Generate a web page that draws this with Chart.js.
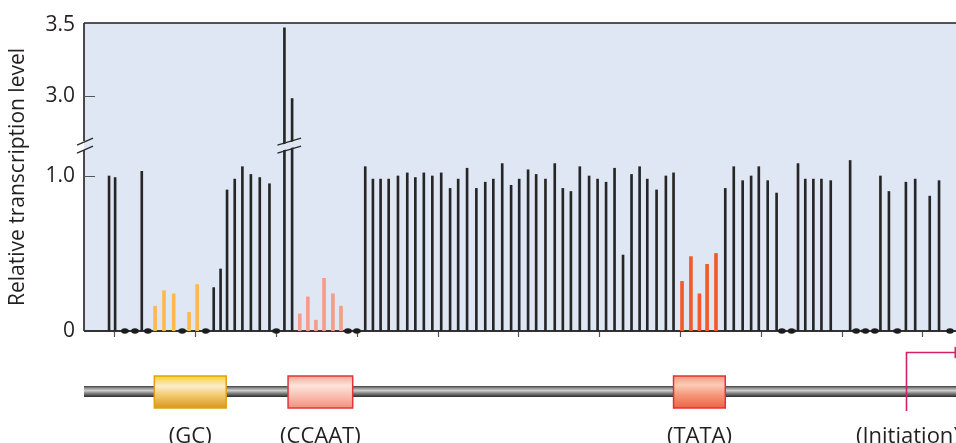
<!DOCTYPE html>
<html>
<head>
<meta charset="utf-8">
<script src="https://cdn.jsdelivr.net/npm/chart.js@4/dist/chart.umd.min.js"></script>
<style>
  html, body { margin: 0; padding: 0; background: #fff; overflow: hidden; }
  #wrap { width: 956px; height: 443px; position: relative; }
  #chart { display: block; }
</style>
</head>
<body>
<div id="wrap"><canvas id="chart"></canvas></div>
<script>
// positions along the promoter (bp from the first tick), relative transcription level
const blackPos = [-1.3, 0.2, 6.8, 24.6, 26.3, 27.9, 29.8, 31.7, 33.8, 36.0, 38.4, 42.1, 44.0,
  62.1, 64.0, 65.9, 67.9, 70.2, 72.5, 74.5, 76.6, 78.7, 80.9, 83.1, 85.1, 87.3, 89.6, 91.8, 93.8,
  96.0, 98.2, 100.2, 102.4, 104.4, 106.7, 109.0, 111.0, 113.0, 115.2, 117.5, 119.6, 121.7, 123.8,
  125.9, 128.0, 130.0, 131.9, 134.2, 136.5, 138.4, 151.2, 153.3, 155.5, 157.6, 159.5, 161.7, 163.9,
  169.2, 171.0, 173.0, 175.0, 177.3, 182.1, 189.6, 191.7, 195.9, 198.2, 201.8, 204.1];
const blackVal = [1.0, 0.99, 1.03, 0.28, 0.40, 0.91, 0.98, 1.06, 1.01, 0.99, 0.95, 3.48, 2.98,
  1.06, 0.98, 0.98, 0.98, 1.0, 1.02, 0.99, 1.02, 1.0, 1.02, 0.92, 0.98, 1.05, 0.92, 0.96, 0.98,
  1.08, 0.94, 0.98, 1.04, 1.01, 0.98, 1.08, 0.92, 0.90, 1.06, 1.0, 0.98, 0.96, 1.05,
  0.49, 1.01, 1.06, 0.98, 0.91, 1.0, 1.02, 0.92, 1.06, 0.97, 1.0, 1.06, 0.97, 0.89,
  1.08, 0.98, 0.98, 0.98, 0.97, 1.10, 1.0, 0.90, 0.96, 0.98, 0.87, 0.97];
const gcPos = [10.1, 12.3, 14.7, 18.5, 20.5];
const gcVal = [0.16, 0.26, 0.24, 0.12, 0.30];
const ccaatPos = [45.9, 47.9, 49.9, 51.9, 54.1, 56.1];
const ccaatVal = [0.11, 0.22, 0.07, 0.34, 0.24, 0.16];
const tataPos = [140.5, 142.7, 144.8, 146.7, 148.9];
const tataVal = [0.32, 0.48, 0.24, 0.43, 0.50];
const zeroPos = [2.6, 5.1, 8.3, 16.8, 22.6, 40.1, 57.8, 60.0, 165.2, 167.6, 183.6, 185.9, 188.2, 193.8, 206.8];

const xTicks = [0, 20, 40, 60, 80, 100, 120, 140, 160, 180, 200];
const yTicks = [0, 1.0, 3.0, 3.5];
const yTickLabels = ['0', '1.0', '3.0', '3.5'];

const gcBox = [9.9, 27.7];
const ccaatBox = [43.0, 59.0];
const tataBox = [138.4, 151.2];
const initiationPos = 195.9;

// broken y axis: 0..1.5 as is, 3.0..3.5 compressed on top of it
const UPPER_BASE = 1.518, UPPER_K = 0.912, BREAK_AT = 1.196;
function toAxis(v) { return v <= 1.5 ? v : UPPER_BASE + (v - 3.0) * UPPER_K; }
const pts = (xs, ys) => xs.map((x, i) => ({ x, y: toAxis(ys[i]) }));

const BG = '#E0E7F4';
const INK = '#231F20';

// small ellipse used for the zero-level markers
const dot = document.createElement('canvas');
dot.width = 8; dot.height = 6;
(() => {
  const c = dot.getContext('2d');
  c.fillStyle = '#1c1c1c';
  c.beginPath(); c.ellipse(4, 3, 3.8, 2.8, 0, 0, Math.PI * 2); c.fill();
})();

function slashes(ctx, x0, x1, yc, cut) {
  // two parallel strokes, optionally masking what lies between them
  const dy = 3.5, gap = 4;
  if (cut) {
    ctx.fillStyle = BG;
    ctx.beginPath();
    ctx.moveTo(x0, yc + dy - gap + 1); ctx.lineTo(x1, yc - dy - gap + 1);
    ctx.lineTo(x1, yc - dy + gap - 1); ctx.lineTo(x0, yc + dy + gap - 1);
    ctx.closePath(); ctx.fill();
  }
  ctx.strokeStyle = '#2a2a2a'; ctx.lineWidth = 1.3;
  ctx.beginPath();
  ctx.moveTo(x0, yc + dy - gap); ctx.lineTo(x1, yc - dy - gap);
  ctx.moveTo(x0, yc + dy + gap); ctx.lineTo(x1, yc - dy + gap);
  ctx.stroke();
}

function box(ctx, x0, x1, top, bot, stops, border) {
  const g = ctx.createLinearGradient(0, top, 0, bot);
  stops.forEach(([o, c]) => g.addColorStop(o, c));
  ctx.fillStyle = g;
  ctx.fillRect(x0, top, x1 - x0, bot - top);
  ctx.strokeStyle = border; ctx.lineWidth = 1.5;
  ctx.strokeRect(x0, top, x1 - x0, bot - top);
}

const figure = {
  id: 'figure',
  beforeDatasetsDraw(chart) {
    const { ctx, chartArea: a, scales: { x, y } } = chart;
    ctx.save();
    ctx.fillStyle = BG;
    ctx.fillRect(a.left, a.top, a.right - a.left, a.bottom - a.top);
    // frame: top line, broken left axis, baseline
    const yb = y.getPixelForValue(BREAK_AT);
    ctx.strokeStyle = INK; ctx.lineWidth = 1.6;
    ctx.beginPath();
    ctx.moveTo(a.left, a.top); ctx.lineTo(a.right, a.top);
    ctx.moveTo(a.left, a.top); ctx.lineTo(a.left, yb - 4.5);
    ctx.moveTo(a.left, yb + 4.5); ctx.lineTo(a.left, a.bottom);
    ctx.stroke();
    // inner ticks at 1.0 and 3.0
    ctx.lineWidth = 1.2; ctx.strokeStyle = '#555';
    ctx.beginPath();
    [1.0, 3.0].forEach(v => {
      const py = Math.round(y.getPixelForValue(toAxis(v))) + 0.5;
      ctx.moveTo(a.left, py); ctx.lineTo(a.left + 11, py);
    });
    // ticks under the baseline
    xTicks.forEach(t => {
      const px = Math.round(x.getPixelForValue(t)) + 0.5;
      ctx.moveTo(px, a.bottom); ctx.lineTo(px, a.bottom + 6);
    });
    ctx.stroke();
    ctx.strokeStyle = '#333'; ctx.lineWidth = 2;
    ctx.beginPath(); ctx.moveTo(a.left, a.bottom); ctx.lineTo(a.right, a.bottom); ctx.stroke();
    slashes(ctx, a.left - 7, a.left + 9, yb, false);
    ctx.restore();
  },
  afterDatasetsDraw(chart) {
    const { ctx, scales: { x, y } } = chart;
    ctx.save();
    const yb = y.getPixelForValue(BREAK_AT);
    const tall = blackPos.filter((p, i) => blackVal[i] > 1.5).map(p => x.getPixelForValue(p));
    slashes(ctx, Math.min(...tall) - 7, Math.max(...tall) + 9, yb, true);
    ctx.restore();
  },
  afterDraw(chart) {
    const { ctx, chartArea: a, scales: { x } } = chart;
    ctx.save();
    // DNA rod
    const rt = 386, rb = 397;
    const rg = ctx.createLinearGradient(0, rt, 0, rb);
    rg.addColorStop(0, '#3c3c3c'); rg.addColorStop(0.18, '#8e8e8e');
    rg.addColorStop(0.42, '#cfcfcf'); rg.addColorStop(0.7, '#777');
    rg.addColorStop(1, '#2c2c2c');
    ctx.fillStyle = rg;
    ctx.fillRect(a.left, rt, a.right - a.left, rb - rt);

    const bt = 376, bb = 408;
    box(ctx, x.getPixelForValue(gcBox[0]), x.getPixelForValue(gcBox[1]), bt, bb,
      [[0, '#FFD400'], [0.1, '#F8D86A'], [0.32, '#FBEDCB'], [0.6, '#F2C96E'], [1, '#D8981C']], '#E2A01A');
    box(ctx, x.getPixelForValue(ccaatBox[0]), x.getPixelForValue(ccaatBox[1]), bt, bb,
      [[0, '#F6A897'], [0.3, '#FDE3DB'], [0.65, '#F9BCAD'], [1, '#F1917C']], '#E4353B');
    box(ctx, x.getPixelForValue(tataBox[0]), x.getPixelForValue(tataBox[1]), bt, bb,
      [[0, '#F39A7F'], [0.28, '#FCCCB6'], [0.6, '#F49677'], [1, '#EC6646']], '#E6302E');

    // transcription start
    const ix = Math.round(x.getPixelForValue(initiationPos)) + 0.5;
    const ay = 352.5;
    ctx.strokeStyle = '#D61F69'; ctx.fillStyle = '#D61F69'; ctx.lineWidth = 1.6;
    ctx.beginPath(); ctx.moveTo(ix, 411); ctx.lineTo(ix, ay); ctx.lineTo(a.right, ay); ctx.stroke();
    ctx.beginPath(); ctx.moveTo(a.right - 1.5, ay - 6); ctx.lineTo(a.right + 12, ay); ctx.lineTo(a.right - 1.5, ay + 6);
    ctx.closePath(); ctx.fill();

    ctx.fillStyle = INK;
    ctx.font = '22px "Open Sans"';
    ctx.textAlign = 'center'; ctx.textBaseline = 'alphabetic';
    const mid = r => x.getPixelForValue((r[0] + r[1]) / 2);
    ctx.fillText('(GC)', mid(gcBox), 443);
    ctx.fillText('(CCAAT)', mid(ccaatBox), 443);
    ctx.fillText('(TATA)', mid(tataBox), 443);
    ctx.fillText('(Initiation)', x.getPixelForValue(initiationPos) + 2, 443);
    ctx.restore();
  }
};

const barBase = { type: 'bar', grouped: false, borderWidth: 0 };

new Chart(document.getElementById('chart'), {
  data: {
    datasets: [
      { ...barBase, data: pts(blackPos, blackVal), backgroundColor: '#262626', barThickness: 2 },
      { ...barBase, data: pts(gcPos, gcVal), backgroundColor: '#FDB852', barThickness: 3 },
      { ...barBase, data: pts(ccaatPos, ccaatVal), backgroundColor: '#F59C86', barThickness: 3 },
      { ...barBase, data: pts(tataPos, tataVal), backgroundColor: '#F15A29', barThickness: 3 },
      { type: 'scatter', data: zeroPos.map(p => ({ x: p, y: 0 })), pointStyle: dot, pointRadius: 4, clip: false },
    ],
  },
  options: {
    responsive: true, maintainAspectRatio: false, animation: false,
    layout: { autoPadding: false, padding: { top: 23, right: 0, bottom: 112, left: 0 } },
    plugins: { legend: { display: false }, tooltip: { enabled: false } },
    scales: {
      x: { type: 'linear', display: false, min: -7.5, max: 208.3, offset: false },
      y: {
        min: 0, max: 1.987,
        afterFit: s => { s.width = 84; },
        afterBuildTicks: s => { s.ticks = yTicks.map(v => ({ value: toAxis(v) })); },
        grid: { display: false, drawTicks: false },
        border: { display: false },
        ticks: {
          padding: 9, color: INK, font: { family: 'Open Sans', size: 21 },
          callback: (v, i) => yTickLabels[i],
        },
        title: {
          display: true, text: 'Relative transcription level', color: INK,
          font: { family: 'Open Sans', size: 21 }, padding: { top: 5, bottom: 0 },
        },
      },
    },
  },
  plugins: [figure],
});
</script>
</body>
</html>
